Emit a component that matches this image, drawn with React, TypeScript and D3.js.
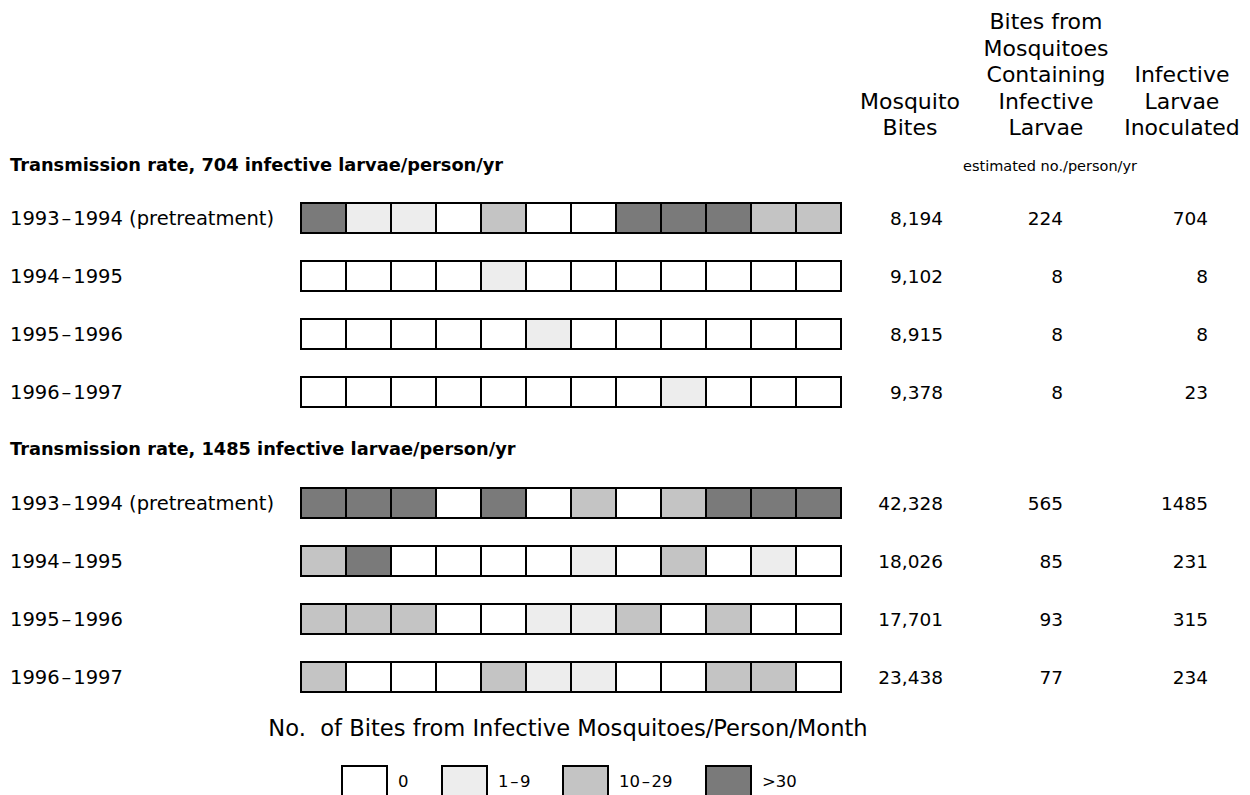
import React from "react";
import * as d3 from "d3";

// ---- data ----
const months = ["M1","M2","M3","M4","M5","M6","M7","M8","M9","M10","M11","M12"];
const groupTitles = [
  "Transmission rate, 704 infective larvae/person/yr",
  "Transmission rate, 1485 infective larvae/person/yr",
];
const rowLabels = ["1993\u200a\u2013\u200a1994 (pretreatment)", "1994\u200a\u2013\u200a1995", "1995\u200a\u2013\u200a1996", "1996\u200a\u2013\u200a1997"];
// level: 0 = 0, 1 = 1-9, 2 = 10-29, 3 = >30
const group1Levels = [
  [3,1,1,0,2,0,0,3,3,3,2,2],
  [0,0,0,0,1,0,0,0,0,0,0,0],
  [0,0,0,0,0,1,0,0,0,0,0,0],
  [0,0,0,0,0,0,0,0,1,0,0,0],
];
const group2Levels = [
  [3,3,3,0,3,0,2,0,2,3,3,3],
  [2,3,0,0,0,0,1,0,2,0,1,0],
  [2,2,2,0,0,1,1,2,0,2,0,0],
  [2,0,0,0,2,1,1,0,0,2,2,0],
];
const group1Bites = ["8,194","9,102","8,915","9,378"];
const group1Infective = ["224","8","8","8"];
const group1Inoculated = ["704","8","8","23"];
const group2Bites = ["42,328","18,026","17,701","23,438"];
const group2Infective = ["565","85","93","77"];
const group2Inoculated = ["1485","231","315","234"];
const legendLevels = [0,1,2,3];
const legendLabels = ["0","1\u200a\u2013\u200a9","10\u200a\u2013\u200a29",">30"];
const headerCols = [
  ["Mosquito","Bites"],
  ["Bites from","Mosquitoes","Containing","Infective","Larvae"],
  ["Infective","Larvae","Inoculated"],
];
const unitsNote = "estimated no./person/yr";
const legendTitle = "No.\u00a0 of Bites from Infective Mosquitoes/Person/Month";

const FONT = "'DejaVu Sans', sans-serif";

export default function App() {
  const W = 1250, H = 795;
  const x = d3.scaleBand<string>().domain(months).range([301, 841]).paddingInner(0).paddingOuter(0);
  const color = d3.scaleOrdinal<number, string>().domain([0,1,2,3]).range(["#ffffff","#ededed","#c4c4c4","#7a7a7a"]);
  const groups = [
    { title: groupTitles[0], titleY: 171, rowY: d3.scaleBand<number>().domain([0,1,2,3]).range([203, 435]), levels: group1Levels, bites: group1Bites, inf: group1Infective, inoc: group1Inoculated },
    { title: groupTitles[1], titleY: 455, rowY: d3.scaleBand<number>().domain([0,1,2,3]).range([488, 720]), levels: group2Levels, bites: group2Bites, inf: group2Infective, inoc: group2Inoculated },
  ];
  const cellH = 30;
  const headerCenters = [910, 1046, 1182];
  const lineH = 26.5;
  const lastBaseline = 135;
  const legendX = [342, 442, 563, 706];

  return (
    <svg width={W} height={H} style={{ position: "absolute", left: 0, top: 0, display: "block", background: "#fff" }} fontFamily={FONT}>
      {/* headers */}
      {headerCols.map((lines, ci) =>
        lines.map((ln, li) => (
          <text key={`h${ci}-${li}`} x={headerCenters[ci]} y={lastBaseline - (lines.length - 1 - li) * lineH}
            textAnchor="middle" fontSize={22} fill="#000">{ln}</text>
        ))
      )}
      <text x={1050} y={171} textAnchor="middle" fontSize={14.5} fill="#000">{unitsNote}</text>

      {groups.map((g, gi) => (
        <g key={gi}>
          <text x={10} y={g.titleY} fontSize={17.8} fontWeight="bold" fill="#000">{g.title}</text>
          {g.levels.map((row, ri) => {
            const y0 = g.rowY(ri)!;
            const cy = y0 + cellH / 2;
            return (
              <g key={ri}>
                <text x={10} y={cy + 7} fontSize={19.5} fill="#000">{rowLabels[ri]}</text>
                {row.map((lv, mi) => (
                  <rect key={mi} x={x(months[mi])!} y={y0} width={x.bandwidth()} height={cellH}
                    fill={color(lv)} stroke="#000" strokeWidth={2} />
                ))}
                <text x={943} y={cy + 7} textAnchor="end" fontSize={18.5} fill="#000">{g.bites[ri]}</text>
                <text x={1063} y={cy + 7} textAnchor="end" fontSize={18.5} fill="#000">{g.inf[ri]}</text>
                <text x={1208} y={cy + 7} textAnchor="end" fontSize={18.5} fill="#000">{g.inoc[ri]}</text>
              </g>
            );
          })}
        </g>
      ))}

      {/* legend */}
      <text x={568} y={736} textAnchor="middle" fontSize={22.6} fill="#000">{legendTitle}</text>
      {legendLevels.map((lv, i) => (
        <g key={i}>
          <rect x={legendX[i]} y={766} width={45} height={30} fill={color(lv)} stroke="#000" strokeWidth={2} />
          <text x={legendX[i] + 56} y={787} fontSize={16.5} fill="#000">{legendLabels[i]}</text>
        </g>
      ))}
    </svg>
  );
}
